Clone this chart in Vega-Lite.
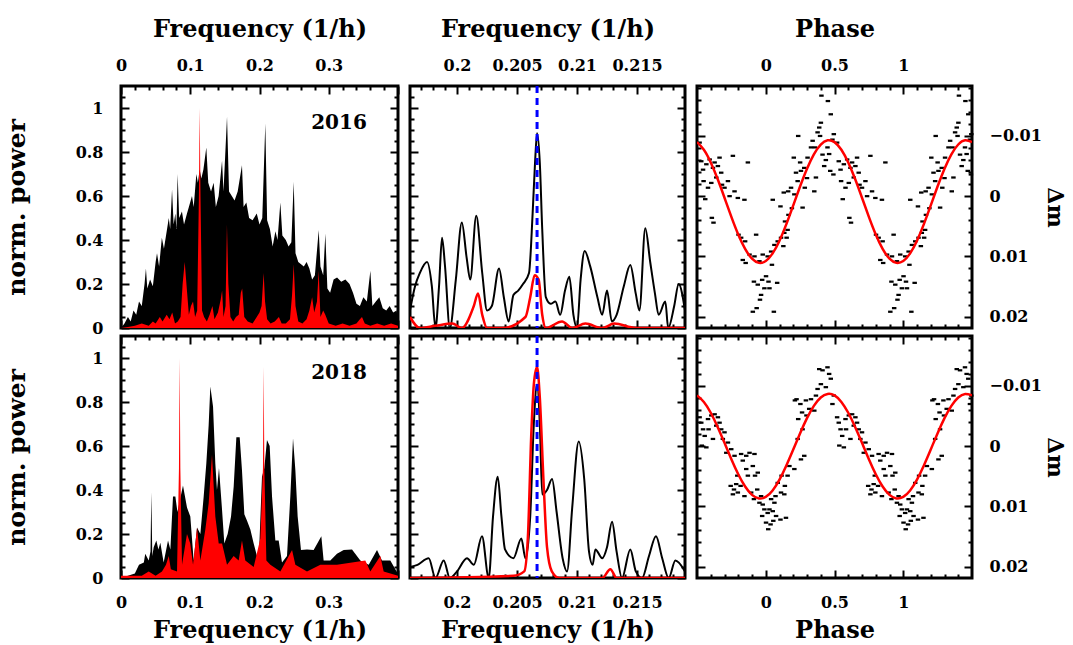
{
"$schema": "https://vega.github.io/schema/vega-lite/v6.json",
"padding": {"left": 2, "top": 15, "right": 0, "bottom": 0},
"background": "white",
"config": {
  "view": {"stroke": "#000", "strokeWidth": 3},
  "axis": {"labelFont": "DejaVu Serif", "labelFontWeight": "bold", "labelFontSize": 16, "titleFont": "DejaVu Serif", "titleFontWeight": "bold", "titleFontSize": 24, "labelColor": "#000", "titleColor": "#000", "tickColor": "#000", "tickWidth": 2, "domain": false, "grid": false, "labelFlush": false, "labelOverlap": false}
},
"datasets": {
"b16": [{"f":0,"p":0},{"f":0.005,"p":0.02},{"f":0.01,"p":0.05},{"f":0.014,"p":0.03},{"f":0.018,"p":0.08},{"f":0.022,"p":0.06},{"f":0.026,"p":0.12},{"f":0.03,"p":0.1},{"f":0.034,"p":0.2},{"f":0.036,"p":0.27},{"f":0.038,"p":0.18},{"f":0.042,"p":0.22},{"f":0.046,"p":0.19},{"f":0.05,"p":0.3},{"f":0.052,"p":0.34},{"f":0.055,"p":0.28},{"f":0.059,"p":0.41},{"f":0.062,"p":0.36},{"f":0.066,"p":0.44},{"f":0.069,"p":0.5},{"f":0.071,"p":0.45},{"f":0.0737,"p":0.63},{"f":0.076,"p":0.47},{"f":0.0785,"p":0.52},{"f":0.08,"p":0.45},{"f":0.0818,"p":0.7},{"f":0.084,"p":0.5},{"f":0.088,"p":0.53},{"f":0.091,"p":0.47},{"f":0.0953,"p":0.52},{"f":0.098,"p":0.55},{"f":0.1025,"p":0.6},{"f":0.105,"p":0.55},{"f":0.1088,"p":0.7},{"f":0.111,"p":0.66},{"f":0.1136,"p":0.72},{"f":0.116,"p":0.68},{"f":0.119,"p":0.72},{"f":0.1232,"p":0.82},{"f":0.126,"p":0.66},{"f":0.13,"p":0.62},{"f":0.1338,"p":0.66},{"f":0.137,"p":0.55},{"f":0.141,"p":0.6},{"f":0.1459,"p":0.76},{"f":0.148,"p":0.62},{"f":0.1531,"p":0.96},{"f":0.156,"p":0.62},{"f":0.16,"p":0.6},{"f":0.164,"p":0.58},{"f":0.1685,"p":0.62},{"f":0.1747,"p":0.74},{"f":0.177,"p":0.55},{"f":0.181,"p":0.57},{"f":0.185,"p":0.5},{"f":0.19,"p":0.49},{"f":0.196,"p":0.52},{"f":0.2,"p":0.47},{"f":0.204,"p":0.5},{"f":0.2084,"p":0.93},{"f":0.211,"p":0.49},{"f":0.215,"p":0.45},{"f":0.219,"p":0.37},{"f":0.223,"p":0.44},{"f":0.226,"p":0.4},{"f":0.2301,"p":0.57},{"f":0.233,"p":0.42},{"f":0.238,"p":0.4},{"f":0.242,"p":0.37},{"f":0.246,"p":0.39},{"f":0.2494,"p":0.665},{"f":0.252,"p":0.34},{"f":0.256,"p":0.3},{"f":0.26,"p":0.29},{"f":0.264,"p":0.28},{"f":0.268,"p":0.3},{"f":0.272,"p":0.27},{"f":0.276,"p":0.22},{"f":0.28,"p":0.24},{"f":0.2855,"p":0.445},{"f":0.288,"p":0.28},{"f":0.292,"p":0.24},{"f":0.2951,"p":0.43},{"f":0.298,"p":0.18},{"f":0.302,"p":0.16},{"f":0.307,"p":0.22},{"f":0.312,"p":0.23},{"f":0.318,"p":0.21},{"f":0.324,"p":0.22},{"f":0.33,"p":0.2},{"f":0.335,"p":0.16},{"f":0.34,"p":0.11},{"f":0.345,"p":0.1},{"f":0.35,"p":0.14},{"f":0.355,"p":0.12},{"f":0.3601,"p":0.26},{"f":0.363,"p":0.1},{"f":0.368,"p":0.12},{"f":0.373,"p":0.14},{"f":0.378,"p":0.09},{"f":0.383,"p":0.08},{"f":0.388,"p":0.1},{"f":0.393,"p":0.07},{"f":0.398,"p":0.08},{"f":0.4,"p":0.04}],
"r16": [{"f":0,"p":0},{"f":0.01,"p":0.005},{"f":0.02,"p":0.01},{"f":0.03,"p":0.02},{"f":0.04,"p":0.01},{"f":0.046,"p":0.03},{"f":0.05,"p":0.02},{"f":0.056,"p":0.05},{"f":0.06,"p":0.03},{"f":0.066,"p":0.06},{"f":0.07,"p":0.04},{"f":0.074,"p":0.07},{"f":0.078,"p":0.02},{"f":0.082,"p":0.03},{"f":0.086,"p":0.05},{"f":0.089,"p":0.2},{"f":0.092,"p":0.3},{"f":0.095,"p":0.18},{"f":0.098,"p":0.06},{"f":0.101,"p":0.1},{"f":0.104,"p":0.12},{"f":0.107,"p":0.05},{"f":0.11,"p":0.08},{"f":0.1125,"p":0.6},{"f":0.1136,"p":1},{"f":0.1148,"p":0.6},{"f":0.117,"p":0.08},{"f":0.12,"p":0.05},{"f":0.124,"p":0.03},{"f":0.128,"p":0.06},{"f":0.132,"p":0.1},{"f":0.135,"p":0.04},{"f":0.14,"p":0.07},{"f":0.144,"p":0.13},{"f":0.146,"p":0.17},{"f":0.148,"p":0.05},{"f":0.151,"p":0.1},{"f":0.153,"p":0.47},{"f":0.155,"p":0.2},{"f":0.158,"p":0.05},{"f":0.162,"p":0.03},{"f":0.166,"p":0.05},{"f":0.17,"p":0.06},{"f":0.173,"p":0.16},{"f":0.175,"p":0.18},{"f":0.178,"p":0.05},{"f":0.183,"p":0.03},{"f":0.19,"p":0.02},{"f":0.196,"p":0.05},{"f":0.2,"p":0.07},{"f":0.203,"p":0.1},{"f":0.206,"p":0.25},{"f":0.208,"p":0.12},{"f":0.211,"p":0.04},{"f":0.216,"p":0.02},{"f":0.222,"p":0.03},{"f":0.228,"p":0.05},{"f":0.232,"p":0.02},{"f":0.238,"p":0.02},{"f":0.244,"p":0.04},{"f":0.247,"p":0.15},{"f":0.2494,"p":0.29},{"f":0.252,"p":0.1},{"f":0.256,"p":0.03},{"f":0.262,"p":0.02},{"f":0.268,"p":0.04},{"f":0.272,"p":0.08},{"f":0.276,"p":0.14},{"f":0.279,"p":0.07},{"f":0.283,"p":0.12},{"f":0.2855,"p":0.26},{"f":0.288,"p":0.05},{"f":0.292,"p":0.08},{"f":0.295,"p":0.06},{"f":0.3,"p":0.02},{"f":0.31,"p":0.01},{"f":0.32,"p":0.02},{"f":0.33,"p":0.01},{"f":0.34,"p":0.02},{"f":0.345,"p":0.04},{"f":0.348,"p":0.05},{"f":0.352,"p":0.02},{"f":0.36,"p":0.01},{"f":0.37,"p":0.02},{"f":0.38,"p":0.01},{"f":0.39,"p":0.02},{"f":0.4,"p":0.01}],
"b18": [{"f":0,"p":0},{"f":0.01,"p":0.01},{"f":0.02,"p":0.02},{"f":0.026,"p":0.06},{"f":0.033,"p":0.07},{"f":0.035,"p":0.11},{"f":0.04,"p":0.08},{"f":0.0426,"p":0.12},{"f":0.0438,"p":0.39},{"f":0.0452,"p":0.1},{"f":0.0472,"p":0.14},{"f":0.051,"p":0.17},{"f":0.054,"p":0.13},{"f":0.0568,"p":0.16},{"f":0.0616,"p":0.07},{"f":0.0679,"p":0.17},{"f":0.0713,"p":0.13},{"f":0.0751,"p":0.37},{"f":0.0785,"p":0.37},{"f":0.0815,"p":0.3},{"f":0.0895,"p":0.42},{"f":0.0953,"p":0.32},{"f":0.1001,"p":0.28},{"f":0.1049,"p":0.08},{"f":0.1098,"p":0.23},{"f":0.1146,"p":0.2},{"f":0.1194,"p":0.37},{"f":0.1232,"p":0.52},{"f":0.1266,"p":0.695},{"f":0.129,"p":0.87},{"f":0.1329,"p":0.78},{"f":0.1362,"p":0.52},{"f":0.1386,"p":0.4},{"f":0.1415,"p":0.5},{"f":0.1459,"p":0.31},{"f":0.1492,"p":0.157},{"f":0.154,"p":0.2},{"f":0.1589,"p":0.28},{"f":0.1627,"p":0.415},{"f":0.1666,"p":0.64},{"f":0.1714,"p":0.64},{"f":0.1747,"p":0.49},{"f":0.1781,"p":0.29},{"f":0.182,"p":0.26},{"f":0.1868,"p":0.22},{"f":0.1916,"p":0.157},{"f":0.1988,"p":0.07},{"f":0.2036,"p":0.46},{"f":0.207,"p":0.5},{"f":0.2108,"p":0.627},{"f":0.2147,"p":0.6},{"f":0.2181,"p":0.37},{"f":0.2229,"p":0.17},{"f":0.2277,"p":0.17},{"f":0.2325,"p":0.07},{"f":0.2397,"p":0.1},{"f":0.2445,"p":0.37},{"f":0.2484,"p":0.635},{"f":0.2518,"p":0.49},{"f":0.2551,"p":0.28},{"f":0.2599,"p":0.127},{"f":0.2686,"p":0.13},{"f":0.2782,"p":0.127},{"f":0.2893,"p":0.19},{"f":0.2926,"p":0.08},{"f":0.3023,"p":0.08},{"f":0.3119,"p":0.11},{"f":0.3216,"p":0.127},{"f":0.3336,"p":0.13},{"f":0.3456,"p":0.08},{"f":0.3577,"p":0.06},{"f":0.3697,"p":0.127},{"f":0.3769,"p":0.08},{"f":0.3889,"p":0.08},{"f":0.398,"p":0.03},{"f":0.4,"p":0.02}],
"r18": [{"f":0,"p":0.01},{"f":0.03,"p":0.01},{"f":0.04,"p":0.03},{"f":0.05,"p":0.01},{"f":0.0592,"p":0.03},{"f":0.065,"p":0.06},{"f":0.0689,"p":0.1},{"f":0.072,"p":0.04},{"f":0.0809,"p":0.03},{"f":0.0837,"p":0.5},{"f":0.0847,"p":1},{"f":0.0857,"p":0.5},{"f":0.0881,"p":0.06},{"f":0.0953,"p":0.2},{"f":0.1,"p":0.157},{"f":0.104,"p":0.06},{"f":0.1098,"p":0.23},{"f":0.1146,"p":0.08},{"f":0.1218,"p":0.22},{"f":0.1266,"p":0.34},{"f":0.1314,"p":0.56},{"f":0.1362,"p":0.28},{"f":0.1411,"p":0.157},{"f":0.1459,"p":0.157},{"f":0.1531,"p":0.06},{"f":0.1627,"p":0.1},{"f":0.1699,"p":0.08},{"f":0.1747,"p":0.17},{"f":0.1795,"p":0.08},{"f":0.1916,"p":0.05},{"f":0.2012,"p":0.18},{"f":0.205,"p":0.5},{"f":0.206,"p":0.96},{"f":0.207,"p":0.5},{"f":0.2099,"p":0.08},{"f":0.2157,"p":0.06},{"f":0.2301,"p":0.03},{"f":0.247,"p":0.127},{"f":0.2518,"p":0.06},{"f":0.2686,"p":0.03},{"f":0.2879,"p":0.06},{"f":0.3119,"p":0.06},{"f":0.3528,"p":0.08},{"f":0.36,"p":0.03},{"f":0.3745,"p":0.1},{"f":0.3793,"p":0.03},{"f":0.4,"p":0.01}],
"mb16": [{"f":0.19608,"p":0.08},{"f":0.1965,"p":0.19},{"f":0.1969,"p":0.25},{"f":0.1975,"p":0.3},{"f":0.1979,"p":0.19},{"f":0.1982,"p":0},{"f":0.1985,"p":0.19},{"f":0.19875,"p":0.41},{"f":0.199,"p":0.28},{"f":0.1994,"p":0},{"f":0.1999,"p":0.22},{"f":0.2004,"p":0.48},{"f":0.2008,"p":0.32},{"f":0.2011,"p":0.22},{"f":0.2016,"p":0.51},{"f":0.2021,"p":0.25},{"f":0.2025,"p":0.08},{"f":0.2029,"p":0.1},{"f":0.2035,"p":0.27},{"f":0.2039,"p":0.14},{"f":0.2043,"p":0.03},{"f":0.2047,"p":0.15},{"f":0.2051,"p":0.17},{"f":0.2055,"p":0.2},{"f":0.206,"p":0.25},{"f":0.2063,"p":0.52},{"f":0.2065,"p":0.75},{"f":0.20667,"p":0.885},{"f":0.2069,"p":0.75},{"f":0.2071,"p":0.45},{"f":0.2074,"p":0.14},{"f":0.2078,"p":0.11},{"f":0.2082,"p":0.12},{"f":0.2086,"p":0.06},{"f":0.209,"p":0.17},{"f":0.20936,"p":0.233},{"f":0.2097,"p":0.06},{"f":0.21,"p":0},{"f":0.2103,"p":0.22},{"f":0.21064,"p":0.35},{"f":0.2111,"p":0.28},{"f":0.2117,"p":0.14},{"f":0.2121,"p":0.06},{"f":0.2125,"p":0.17},{"f":0.2129,"p":0.03},{"f":0.2133,"p":0.06},{"f":0.2139,"p":0.19},{"f":0.21444,"p":0.286},{"f":0.2149,"p":0.155},{"f":0.2152,"p":0.08},{"f":0.21569,"p":0.453},{"f":0.2161,"p":0.3},{"f":0.2165,"p":0.155},{"f":0.2168,"p":0.06},{"f":0.21736,"p":0.12},{"f":0.2176,"p":0},{"f":0.2181,"p":0.1},{"f":0.21847,"p":0.2},{"f":0.219,"p":0.08}],
"mr16": [{"f":0.19608,"p":0.05},{"f":0.1969,"p":0},{"f":0.1982,"p":0.01},{"f":0.1996,"p":0.02},{"f":0.2004,"p":0},{"f":0.2014,"p":0.1},{"f":0.20175,"p":0.157},{"f":0.2021,"p":0.06},{"f":0.2025,"p":0},{"f":0.2038,"p":0},{"f":0.2057,"p":0.05},{"f":0.2061,"p":0.14},{"f":0.20647,"p":0.24},{"f":0.2068,"p":0.22},{"f":0.2071,"p":0.06},{"f":0.2074,"p":0},{"f":0.20875,"p":0.03},{"f":0.2096,"p":0},{"f":0.2107,"p":0.02},{"f":0.2121,"p":0},{"f":0.2131,"p":0.02},{"f":0.2149,"p":0},{"f":0.219,"p":0}],
"mb18": [{"f":0.19608,"p":0.05},{"f":0.1967,"p":0.06},{"f":0.19764,"p":0.09},{"f":0.1982,"p":0},{"f":0.19889,"p":0.08},{"f":0.1994,"p":0},{"f":0.2,"p":0.03},{"f":0.20083,"p":0.09},{"f":0.2014,"p":0.06},{"f":0.20208,"p":0.19},{"f":0.20264,"p":0},{"f":0.203,"p":0.28},{"f":0.20339,"p":0.46},{"f":0.2037,"p":0.28},{"f":0.204,"p":0.13},{"f":0.2047,"p":0.09},{"f":0.20536,"p":0.18},{"f":0.2057,"p":0.09},{"f":0.2061,"p":0.28},{"f":0.2064,"p":0.7},{"f":0.20667,"p":0.88},{"f":0.2069,"p":0.7},{"f":0.2071,"p":0.38},{"f":0.2075,"p":0.4},{"f":0.20792,"p":0.45},{"f":0.2083,"p":0.3},{"f":0.2088,"p":0.09},{"f":0.20917,"p":0.03},{"f":0.2096,"p":0.32},{"f":0.21014,"p":0.62},{"f":0.2106,"p":0.45},{"f":0.211,"p":0.12},{"f":0.2113,"p":0.06},{"f":0.21153,"p":0.13},{"f":0.2121,"p":0.09},{"f":0.2125,"p":0.14},{"f":0.21292,"p":0.256},{"f":0.2133,"p":0.12},{"f":0.21375,"p":0},{"f":0.21444,"p":0.13},{"f":0.2149,"p":0.03},{"f":0.21542,"p":0},{"f":0.216,"p":0.1},{"f":0.21658,"p":0.19},{"f":0.2171,"p":0.09},{"f":0.21764,"p":0},{"f":0.2182,"p":0.08},{"f":0.219,"p":0.03}],
"mr18": [{"f":0.19608,"p":0},{"f":0.2047,"p":0.01},{"f":0.2056,"p":0.03},{"f":0.2059,"p":0.18},{"f":0.2062,"p":0.67},{"f":0.2064,"p":0.88},{"f":0.20667,"p":0.96},{"f":0.2069,"p":0.82},{"f":0.2072,"p":0.45},{"f":0.2075,"p":0.14},{"f":0.2079,"p":0.03},{"f":0.2085,"p":0},{"f":0.2121,"p":0},{"f":0.21278,"p":0.04},{"f":0.2133,"p":0},{"f":0.219,"p":0}],
"c16": [{"ph":-0.5,"dm":-0.00898},{"ph":-0.45,"dm":-0.00771},{"ph":-0.4,"dm":-0.0056},{"ph":-0.35,"dm":-0.00285},{"ph":-0.3,"dm":0.00026},{"ph":-0.25,"dm":0.00344},{"ph":-0.2,"dm":0.00637},{"ph":-0.15,"dm":0.00876},{"ph":-0.1,"dm":0.01038},{"ph":-0.05,"dm":0.01108},{"ph":0,"dm":0.01078},{"ph":0.05,"dm":0.00951},{"ph":0.1,"dm":0.0074},{"ph":0.15,"dm":0.00465},{"ph":0.2,"dm":0.00154},{"ph":0.25,"dm":-0.00164},{"ph":0.3,"dm":-0.00457},{"ph":0.35,"dm":-0.00696},{"ph":0.4,"dm":-0.00858},{"ph":0.45,"dm":-0.00928},{"ph":0.5,"dm":-0.00898},{"ph":0.55,"dm":-0.00771},{"ph":0.6,"dm":-0.0056},{"ph":0.65,"dm":-0.00285},{"ph":0.7,"dm":0.00026},{"ph":0.75,"dm":0.00344},{"ph":0.8,"dm":0.00637},{"ph":0.85,"dm":0.00876},{"ph":0.9,"dm":0.01038},{"ph":0.95,"dm":0.01108},{"ph":1,"dm":0.01078},{"ph":1.05,"dm":0.00951},{"ph":1.1,"dm":0.0074},{"ph":1.15,"dm":0.00465},{"ph":1.2,"dm":0.00154},{"ph":1.25,"dm":-0.00164},{"ph":1.3,"dm":-0.00457},{"ph":1.35,"dm":-0.00696},{"ph":1.4,"dm":-0.00858},{"ph":1.45,"dm":-0.00928},{"ph":1.5,"dm":-0.00898}],
"c18": [{"ph":-0.5,"dm":-0.00843},{"ph":-0.45,"dm":-0.00735},{"ph":-0.4,"dm":-0.00555},{"ph":-0.35,"dm":-0.0032},{"ph":-0.3,"dm":-0.00055},{"ph":-0.25,"dm":0.00216},{"ph":-0.2,"dm":0.00466},{"ph":-0.15,"dm":0.0067},{"ph":-0.1,"dm":0.00809},{"ph":-0.05,"dm":0.00868},{"ph":0,"dm":0.00843},{"ph":0.05,"dm":0.00735},{"ph":0.1,"dm":0.00555},{"ph":0.15,"dm":0.0032},{"ph":0.2,"dm":0.00055},{"ph":0.25,"dm":-0.00216},{"ph":0.3,"dm":-0.00466},{"ph":0.35,"dm":-0.0067},{"ph":0.4,"dm":-0.00809},{"ph":0.45,"dm":-0.00868},{"ph":0.5,"dm":-0.00843},{"ph":0.55,"dm":-0.00735},{"ph":0.6,"dm":-0.00555},{"ph":0.65,"dm":-0.0032},{"ph":0.7,"dm":-0.00055},{"ph":0.75,"dm":0.00216},{"ph":0.8,"dm":0.00466},{"ph":0.85,"dm":0.0067},{"ph":0.9,"dm":0.00809},{"ph":0.95,"dm":0.00868},{"ph":1,"dm":0.00843},{"ph":1.05,"dm":0.00735},{"ph":1.1,"dm":0.00555},{"ph":1.15,"dm":0.0032},{"ph":1.2,"dm":0.00055},{"ph":1.25,"dm":-0.00216},{"ph":1.3,"dm":-0.00466},{"ph":1.35,"dm":-0.0067},{"ph":1.4,"dm":-0.00809},{"ph":1.45,"dm":-0.00868},{"ph":1.5,"dm":-0.00843}],
"s16": [{"ph":[-0.481,0.519],"dm":-0.0089},{"ph":[-0.469,0.531],"dm":-0.0058},{"ph":[-0.456,0.544],"dm":-0.0044},{"ph":[-0.432,0.568],"dm":-0.0053},{"ph":[-0.408,0.592],"dm":-0.0061},{"ph":[-0.384,0.616],"dm":-0.0047},{"ph":[-0.372,0.628],"dm":-0.0056},{"ph":[-0.348,0.652],"dm":-0.005},{"ph":[-0.336,0.664],"dm":-0.0064},{"ph":[-0.324,0.676],"dm":-0.0039},{"ph":[-0.452,0.548],"dm":-0.0025},{"ph":[-0.42,0.58],"dm":-0.0014},{"ph":[-0.396,0.604],"dm":-0.0022},{"ph":[-0.36,0.64],"dm":-0.0031},{"ph":[-0.318,0.682],"dm":-0.0019},{"ph":[-0.3,0.7],"dm":-0.0014},{"ph":[-0.275,0.725],"dm":-0.0025},{"ph":[-0.263,0.737],"dm":0},{"ph":[-0.227,0.773],"dm":-0.0008},{"ph":[-0.203,0.797],"dm":0.0003},{"ph":[-0.155,0.845],"dm":0.0006},{"ph":[-0.13,0.87],"dm":-0.0056},{"ph":[-0.239,0.761],"dm":-0.0067},{"ph":[-0.392,0.608],"dm":0.0036},{"ph":[-0.38,0.62],"dm":0.0044},{"ph":[-0.198,0.802],"dm":0.0064},{"ph":[-0.179,0.821],"dm":0.0069},{"ph":[-0.15,0.85],"dm":0.0075},{"ph":[-0.07,0.93],"dm":0.0064},{"ph":[-0.167,0.833],"dm":0.0106},{"ph":[-0.146,0.854],"dm":0.0111},{"ph":[-0.118,0.882],"dm":0.0097},{"ph":[-0.082,0.918],"dm":0.01},{"ph":[-0.046,0.954],"dm":0.0108},{"ph":[-0.022,0.978],"dm":0.0097},{"ph":[0.014,1.014],"dm":0.01},{"ph":[0.039,1.039],"dm":0.0092},{"ph":[0.045,1.045],"dm":0.0114},{"ph":[0.063,1.063],"dm":0.0081},{"ph":[0.087,1.087],"dm":0.0075},{"ph":[0.111,1.111],"dm":0.0069},{"ph":[0.135,1.135],"dm":0.0061},{"ph":[0.159,1.159],"dm":0.0056},{"ph":[0.152,1.152],"dm":0.0069},{"ph":[0.128,1.128],"dm":0.0083},{"ph":[0.051,1.051],"dm":0.0006},{"ph":[-0.086,0.914],"dm":0.0142},{"ph":[-0.058,0.942],"dm":0.0147},{"ph":[-0.026,0.974],"dm":0.0139},{"ph":[0.002,1.002],"dm":0.0133},{"ph":[0.02,1.02],"dm":0.0142},{"ph":[-0.01,0.99],"dm":0.0153},{"ph":[-0.034,0.966],"dm":0.0164},{"ph":[0.027,1.027],"dm":0.0153},{"ph":[0.083,1.083],"dm":0.0144},{"ph":[-0.094,0.906],"dm":0.0192},{"ph":[-0.066,0.934],"dm":0.0186},{"ph":[-0.042,0.958],"dm":0.0172},{"ph":[0.059,1.059],"dm":0.0192},{"ph":[0.14,1.14],"dm":0.0042},{"ph":[0.165,1.165],"dm":0.0031},{"ph":[0.107,1.107],"dm":0.0017},{"ph":[0.131,1.131],"dm":-0.0006},{"ph":[0.163,1.163],"dm":-0.0008},{"ph":[0.184,1.184],"dm":-0.0014},{"ph":[0.208,1.208],"dm":-0.0003},{"ph":[0.232,1.232],"dm":-0.0025},{"ph":[0.22,1.22],"dm":-0.0039},{"ph":[0.256,1.256],"dm":-0.0042},{"ph":[0.28,1.28],"dm":-0.0047},{"ph":[0.204,1.204],"dm":-0.0064},{"ph":[0.236,1.236],"dm":-0.01},{"ph":[0.25,1.25],"dm":-0.0056},{"ph":[0.284,1.284],"dm":-0.0014},{"ph":[0.304,1.304],"dm":-0.0064},{"ph":[0.329,1.329],"dm":-0.0081},{"ph":[0.341,1.341],"dm":-0.0092},{"ph":[0.358,1.358],"dm":-0.0081},{"ph":[0.377,1.377],"dm":-0.0106},{"ph":[0.389,1.389],"dm":-0.0114},{"ph":[0.401,1.401],"dm":-0.0122},{"ph":[0.413,1.413],"dm":-0.0069},{"ph":[0.425,1.425],"dm":-0.005},{"ph":[0.449,1.449],"dm":-0.0081},{"ph":[0.473,1.473],"dm":-0.0136},{"ph":[0.485,1.485],"dm":-0.0094},{"ph":[0.495,1.495],"dm":-0.0103},{"ph":[0.469,1.469],"dm":-0.0042},{"ph":[0.492,1.492],"dm":-0.0036},{"ph":[0.405,1.405],"dm":-0.0167},{"ph":[0.365,1.365],"dm":-0.0031},{"ph":[0.353,1.353],"dm":-0.0008},{"ph":[0.268,1.268],"dm":0.0019},{"ph":[0.452,1.452],"dm":-0.0158},{"ph":[0.395,1.395],"dm":-0.01},{"ph":[0.437,1.437],"dm":-0.006},{"ph":[0.461,1.461],"dm":-0.007},{"ph":[-0.44,0.56],"dm":0.0005},{"ph":[0.3,1.3],"dm":-0.003},{"ph":[0.19,1.19],"dm":0.002}],
"s18": [{"ph":[-0.481,0.519],"dm":-0.0048},{"ph":[-0.469,0.531],"dm":-0.0039},{"ph":[-0.456,0.544],"dm":-0.0028},{"ph":[-0.444,0.556],"dm":-0.0017},{"ph":[-0.465,0.535],"dm":-0.0001},{"ph":[-0.42,0.58],"dm":-0.0045},{"ph":[-0.396,0.604],"dm":-0.0051},{"ph":[-0.372,0.628],"dm":-0.0053},{"ph":[-0.348,0.652],"dm":-0.0048},{"ph":[-0.336,0.664],"dm":-0.0039},{"ph":[-0.36,0.64],"dm":-0.0034},{"ph":[-0.324,0.676],"dm":-0.0028},{"ph":[-0.3,0.7],"dm":-0.0023},{"ph":[-0.312,0.688],"dm":-0.0012},{"ph":[-0.275,0.725],"dm":-0.0006},{"ph":[-0.251,0.749],"dm":0.0005},{"ph":[-0.287,0.713],"dm":0.0011},{"ph":[-0.227,0.773],"dm":0.0016},{"ph":[-0.179,0.821],"dm":0.0013},{"ph":[-0.142,0.858],"dm":0.0016},{"ph":[-0.118,0.882],"dm":0.0011},{"ph":[-0.082,0.918],"dm":0.0013},{"ph":[-0.167,0.833],"dm":0.0024},{"ph":[-0.094,0.906],"dm":0.0033},{"ph":[-0.13,0.87],"dm":0.0049},{"ph":[-0.078,0.922],"dm":0.0049},{"ph":[-0.058,0.942],"dm":0.0044},{"ph":[-0.255,0.745],"dm":0.0066},{"ph":[-0.231,0.769],"dm":0.0072},{"ph":[-0.203,0.797],"dm":0.0077},{"ph":[-0.183,0.817],"dm":0.0066},{"ph":[-0.239,0.761],"dm":0.008},{"ph":[-0.215,0.785],"dm":0.0063},{"ph":[-0.155,0.845],"dm":0.0083},{"ph":[-0.106,0.894],"dm":0.0077},{"ph":[-0.086,0.914],"dm":0.0088},{"ph":[-0.046,0.954],"dm":0.0094},{"ph":[-0.022,0.978],"dm":0.0097},{"ph":[-0.01,0.99],"dm":0.0105},{"ph":[0.014,1.014],"dm":0.0111},{"ph":[0.051,1.051],"dm":0.0108},{"ph":[0.075,1.075],"dm":0.0116},{"ph":[0.147,1.147],"dm":0.0119},{"ph":[0.002,1.002],"dm":0.0127},{"ph":[0.018,1.018],"dm":0.0138},{"ph":[0.039,1.039],"dm":0.0088},{"ph":[0.071,1.071],"dm":0.0083},{"ph":[0.111,1.111],"dm":0.0077},{"ph":[0.135,1.135],"dm":0.008},{"ph":[0.087,1.087],"dm":0.0061},{"ph":[0.115,1.115],"dm":0.0049},{"ph":[0.159,1.159],"dm":0.0049},{"ph":[0.208,1.208],"dm":0.0038},{"ph":[0.256,1.256],"dm":0.0022},{"ph":[0.28,1.28],"dm":0.0016},{"ph":[0.232,1.232],"dm":-0.0012},{"ph":[0.268,1.268],"dm":-0.0028},{"ph":[0.236,1.236],"dm":-0.0045},{"ph":[0.212,1.212],"dm":-0.0076},{"ph":[0.224,1.224],"dm":-0.0078},{"ph":[0.252,1.252],"dm":-0.007},{"ph":[0.292,1.292],"dm":-0.0076},{"ph":[0.329,1.329],"dm":-0.0078},{"ph":[0.365,1.365],"dm":-0.0084},{"ph":[0.377,1.377],"dm":-0.0095},{"ph":[0.389,1.389],"dm":-0.0128},{"ph":[0.413,1.413],"dm":-0.0126},{"ph":[0.449,1.449],"dm":-0.0131},{"ph":[0.461,1.461],"dm":-0.012},{"ph":[0.473,1.473],"dm":-0.0112},{"ph":[0.401,1.401],"dm":-0.0103},{"ph":[0.437,1.437],"dm":-0.0098},{"ph":[0.353,1.353],"dm":-0.0059},{"ph":[0.296,1.296],"dm":-0.0051},{"ph":[0.316,1.316],"dm":-0.0062},{"ph":[0.264,1.264],"dm":-0.0056},{"ph":[0.172,1.172],"dm":0.0033},{"ph":[0.139,1.139],"dm":0.0066},{"ph":[0.055,1.055],"dm":0.0124},{"ph":[0.063,1.063],"dm":0.0094},{"ph":[0.027,1.027],"dm":0.0105},{"ph":[-0.034,0.966],"dm":0.0083},{"ph":[-0.062,0.938],"dm":0.0072},{"ph":[-0.207,0.793],"dm":0.0049},{"ph":[-0.142,0.858],"dm":0.0038},{"ph":[-0.416,0.584],"dm":-0.0028},{"ph":[-0.384,0.616],"dm":-0.0012},{"ph":[-0.432,0.568],"dm":0.0002},{"ph":[0.495,1.495],"dm":-0.0084},{"ph":[0.485,1.485],"dm":-0.007},{"ph":[0.035,1.035],"dm":0.013},{"ph":[0.107,1.107],"dm":0.0122},{"ph":[-0.026,0.974],"dm":0.0116}]
},
"columns": 3,
"bounds": "flush",
"spacing": {"row": 8, "column": 12},
"concat": [
{
 "width": 277, "height": 242,
 "resolve": {"axis": {"x": "independent", "y": "independent"}},
 "layer": [
  {"data": {"name": "b16"}, "mark": {"type": "area", "color": "#000", "clip": true},
   "encoding": {
    "x": {"field": "f", "type": "quantitative", "scale": {"domain": [0, 0.4], "nice": false, "zero": false}, "axis": {"orient": "top", "values": [0, 0.1, 0.2, 0.3], "format": "~g", "ticks": false, "labelPadding": 13, "title": "Frequency (1/h)", "titlePadding": 16}},
    "y": {"field": "p", "type": "quantitative", "scale": {"domain": [0, 1.1], "nice": false, "zero": false}, "axis": {"orient": "left", "values": [0, 0.2, 0.4, 0.6, 0.8, 1], "format": "~g", "ticks": false, "labelPadding": 18, "title": "norm. power", "titleFontSize": 25, "titlePadding": 46}}}},
  {"data": {"name": "r16"}, "mark": {"type": "area", "color": "#ff0000", "clip": true},
   "encoding": {
    "x": {"field": "f", "type": "quantitative", "scale": {"domain": [0, 0.4], "nice": false, "zero": false}, "axis": {"orient": "bottom", "values": [0, 0.1, 0.2, 0.3, 0.4], "labels": false, "title": null, "tickSize": -8}},
    "y": {"field": "p", "type": "quantitative", "scale": {"domain": [0, 1.1], "nice": false, "zero": false}, "axis": {"orient": "left", "values": [0, 0.2, 0.4, 0.6, 0.8, 1], "labels": false, "title": null, "tickSize": -8}}}},
  {"data": {"values": [{"f": 0.355, "p": 0.93, "t": "2016"}]}, "mark": {"type": "text", "align": "right", "baseline": "middle", "font": "DejaVu Serif", "fontWeight": "bold", "fontSize": 20, "color": "#000"},
   "encoding": {
    "x": {"field": "f", "type": "quantitative", "scale": {"domain": [0, 0.4], "nice": false, "zero": false}, "axis": {"orient": "top", "values": [0, 0.1, 0.2, 0.3, 0.4], "labels": false, "title": null, "tickSize": -8}},
    "y": {"field": "p", "type": "quantitative", "scale": {"domain": [0, 1.1], "nice": false, "zero": false}, "axis": {"orient": "right", "values": [0, 0.2, 0.4, 0.6, 0.8, 1], "labels": false, "title": null, "tickSize": -8}},
    "text": {"field": "t"}}},
  {"data": {"values": []}, "mark": "point",
   "encoding": {
    "x": {"field": "f", "type": "quantitative", "scale": {"domain": [0, 0.4], "nice": false, "zero": false}, "axis": {"orient": "bottom", "values": [0.02,0.04,0.06,0.08,0.12,0.14,0.16,0.18,0.22,0.24,0.26,0.28,0.32,0.34,0.36,0.38], "labels": false, "title": null, "tickSize": -4}},
    "y": {"field": "p", "type": "quantitative", "scale": {"domain": [0, 1.1], "nice": false, "zero": false}, "axis": {"orient": "left", "values": [0.05,0.1,0.15,0.25,0.3,0.35,0.45,0.5,0.55,0.65,0.7,0.75,0.85,0.9,0.95,1.05], "labels": false, "title": null, "tickSize": -4}}}},
  {"data": {"values": []}, "mark": "point",
   "encoding": {
    "x": {"field": "f", "type": "quantitative", "scale": {"domain": [0, 0.4], "nice": false, "zero": false}, "axis": {"orient": "top", "values": [0.02,0.04,0.06,0.08,0.12,0.14,0.16,0.18,0.22,0.24,0.26,0.28,0.32,0.34,0.36,0.38], "labels": false, "title": null, "tickSize": -4}},
    "y": {"field": "p", "type": "quantitative", "scale": {"domain": [0, 1.1], "nice": false, "zero": false}, "axis": {"orient": "right", "values": [0.05,0.1,0.15,0.25,0.3,0.35,0.45,0.5,0.55,0.65,0.7,0.75,0.85,0.9,0.95,1.05], "labels": false, "title": null, "tickSize": -4}}}}
 ]
},
{
 "width": 275, "height": 242,
 "resolve": {"axis": {"x": "independent", "y": "independent"}},
 "layer": [
  {"data": {"name": "mb16"}, "mark": {"type": "line", "color": "#000", "strokeWidth": 2, "interpolate": "monotone", "clip": true},
   "encoding": {
    "x": {"field": "f", "type": "quantitative", "scale": {"domain": [0.19608, 0.219], "nice": false, "zero": false}, "axis": {"orient": "top", "values": [0.2, 0.205, 0.21, 0.215], "format": "~g", "ticks": false, "labelPadding": 13, "title": "Frequency (1/h)", "titlePadding": 16}},
    "y": {"field": "p", "type": "quantitative", "scale": {"domain": [0, 1.1], "nice": false, "zero": false}, "axis": {"orient": "left", "values": [0, 0.2, 0.4, 0.6, 0.8, 1], "labels": false, "title": null, "tickSize": -8}}}},
  {"data": {"name": "mr16"}, "mark": {"type": "line", "color": "#ff0000", "strokeWidth": 2.5, "interpolate": "monotone", "clip": true},
   "encoding": {
    "x": {"field": "f", "type": "quantitative", "scale": {"domain": [0.19608, 0.219], "nice": false, "zero": false}, "axis": {"orient": "bottom", "values": [0.2, 0.205, 0.21, 0.215], "labels": false, "title": null, "tickSize": -8}},
    "y": {"field": "p", "type": "quantitative", "scale": {"domain": [0, 1.1], "nice": false, "zero": false}, "axis": {"orient": "right", "values": [0, 0.2, 0.4, 0.6, 0.8, 1], "labels": false, "title": null, "tickSize": -8}}}},
  {"data": {"values": []}, "mark": "point",
   "encoding": {
    "x": {"field": "f", "type": "quantitative", "scale": {"domain": [0.19608, 0.219], "nice": false, "zero": false}, "axis": {"orient": "top", "values": [0.2, 0.205, 0.21, 0.215], "labels": false, "title": null, "tickSize": -8}},
    "y": {"field": "p", "type": "quantitative", "scale": {"domain": [0, 1.1], "nice": false, "zero": false}, "axis": {"orient": "left", "values": [0.05,0.1,0.15,0.25,0.3,0.35,0.45,0.5,0.55,0.65,0.7,0.75,0.85,0.9,0.95,1.05], "labels": false, "title": null, "tickSize": -4}}}},
  {"data": {"values": []}, "mark": "point",
   "encoding": {
    "x": {"field": "f", "type": "quantitative", "scale": {"domain": [0.19608, 0.219], "nice": false, "zero": false}, "axis": {"orient": "bottom", "values": [0.197,0.198,0.199,0.201,0.202,0.203,0.204,0.206,0.207,0.208,0.209,0.211,0.212,0.213,0.214,0.216,0.217,0.218], "labels": false, "title": null, "tickSize": -4}},
    "y": {"field": "p", "type": "quantitative", "scale": {"domain": [0, 1.1], "nice": false, "zero": false}, "axis": {"orient": "right", "values": [0.05,0.1,0.15,0.25,0.3,0.35,0.45,0.5,0.55,0.65,0.7,0.75,0.85,0.9,0.95,1.05], "labels": false, "title": null, "tickSize": -4}}}},
  {"data": {"values": [{"f": 0.20667}]}, "mark": {"type": "rule", "color": "#0000ff", "strokeWidth": 3, "strokeDash": [7, 5]},
   "encoding": {
    "x": {"field": "f", "type": "quantitative", "scale": {"domain": [0.19608, 0.219], "nice": false, "zero": false}, "axis": {"orient": "top", "values": [0.197,0.198,0.199,0.201,0.202,0.203,0.204,0.206,0.207,0.208,0.209,0.211,0.212,0.213,0.214,0.216,0.217,0.218], "labels": false, "title": null, "tickSize": -4}}}}
 ]
},
{
 "width": 275, "height": 242,
 "resolve": {"axis": {"x": "independent", "y": "independent"}},
 "layer": [
  {"data": {"name": "s16"}, "transform": [{"flatten": ["ph"]}], "mark": {"type": "point", "shape": "M-1,-0.5H1V0.5H-1Z", "size": 20, "filled": true, "color": "#000", "opacity": 1},
   "encoding": {
    "x": {"field": "ph", "type": "quantitative", "scale": {"domain": [-0.5, 1.5], "nice": false, "zero": false}, "axis": {"orient": "top", "values": [0, 0.5, 1], "format": "~g", "ticks": false, "labelPadding": 13, "title": "Phase", "titlePadding": 16}},
    "y": {"field": "dm", "type": "quantitative", "scale": {"domain": [-0.0183, 0.0219], "nice": false, "zero": false, "reverse": true}, "axis": {"orient": "right", "values": [-0.01, 0, 0.01, 0.02], "format": "~g", "ticks": false, "labelPadding": 17, "title": "Δm", "titleFontSize": 22, "titlePadding": 1}}}},
  {"data": {"name": "c16"}, "mark": {"type": "line", "color": "#ff0000", "strokeWidth": 2.5, "interpolate": "natural", "clip": true},
   "encoding": {
    "x": {"field": "ph", "type": "quantitative", "scale": {"domain": [-0.5, 1.5], "nice": false, "zero": false}, "axis": {"orient": "bottom", "values": [0, 0.5, 1], "labels": false, "title": null, "tickSize": -8}},
    "y": {"field": "dm", "type": "quantitative", "scale": {"domain": [-0.0183, 0.0219], "nice": false, "zero": false, "reverse": true}, "axis": {"orient": "left", "values": [-0.01, 0, 0.01, 0.02], "labels": false, "title": null, "tickSize": -8}}}},
  {"data": {"values": []}, "mark": "point",
   "encoding": {
    "x": {"field": "ph", "type": "quantitative", "scale": {"domain": [-0.5, 1.5], "nice": false, "zero": false}, "axis": {"orient": "top", "values": [0, 0.5, 1], "labels": false, "title": null, "tickSize": -8}},
    "y": {"field": "dm", "type": "quantitative", "scale": {"domain": [-0.0183, 0.0219], "nice": false, "zero": false, "reverse": true}, "axis": {"orient": "right", "values": [-0.01, 0, 0.01, 0.02], "labels": false, "title": null, "tickSize": -8}}}},
  {"data": {"values": []}, "mark": "point",
   "encoding": {
    "x": {"field": "ph", "type": "quantitative", "scale": {"domain": [-0.5, 1.5], "nice": false, "zero": false}, "axis": {"orient": "bottom", "values": [-0.4,-0.3,-0.2,-0.1,0.1,0.2,0.3,0.4,0.6,0.7,0.8,0.9,1.1,1.2,1.3,1.4], "labels": false, "title": null, "tickSize": -4}},
    "y": {"field": "dm", "type": "quantitative", "scale": {"domain": [-0.0183, 0.0219], "nice": false, "zero": false, "reverse": true}, "axis": {"orient": "left", "values": [-0.018,-0.016,-0.014,-0.012,-0.008,-0.006,-0.004,-0.002,0.002,0.004,0.006,0.008,0.012,0.014,0.016,0.018], "labels": false, "title": null, "tickSize": -4}}}},
  {"data": {"values": []}, "mark": "point",
   "encoding": {
    "x": {"field": "ph", "type": "quantitative", "scale": {"domain": [-0.5, 1.5], "nice": false, "zero": false}, "axis": {"orient": "top", "values": [-0.4,-0.3,-0.2,-0.1,0.1,0.2,0.3,0.4,0.6,0.7,0.8,0.9,1.1,1.2,1.3,1.4], "labels": false, "title": null, "tickSize": -4}},
    "y": {"field": "dm", "type": "quantitative", "scale": {"domain": [-0.0183, 0.0219], "nice": false, "zero": false, "reverse": true}, "axis": {"orient": "right", "values": [-0.018,-0.016,-0.014,-0.012,-0.008,-0.006,-0.004,-0.002,0.002,0.004,0.006,0.008,0.012,0.014,0.016,0.018], "labels": false, "title": null, "tickSize": -4}}}}
 ]
},
{
 "width": 277, "height": 242,
 "resolve": {"axis": {"x": "independent", "y": "independent"}},
 "layer": [
  {"data": {"name": "b18"}, "mark": {"type": "area", "color": "#000", "clip": true},
   "encoding": {
    "x": {"field": "f", "type": "quantitative", "scale": {"domain": [0, 0.4], "nice": false, "zero": false}, "axis": {"orient": "bottom", "values": [0, 0.1, 0.2, 0.3], "format": "~g", "ticks": false, "labelPadding": 16, "title": "Frequency (1/h)", "titlePadding": 8}},
    "y": {"field": "p", "type": "quantitative", "scale": {"domain": [0, 1.1], "nice": false, "zero": false}, "axis": {"orient": "left", "values": [0, 0.2, 0.4, 0.6, 0.8, 1], "format": "~g", "ticks": false, "labelPadding": 18, "title": "norm. power", "titleFontSize": 25, "titlePadding": 46}}}},
  {"data": {"name": "r18"}, "mark": {"type": "area", "color": "#ff0000", "clip": true},
   "encoding": {
    "x": {"field": "f", "type": "quantitative", "scale": {"domain": [0, 0.4], "nice": false, "zero": false}, "axis": {"orient": "bottom", "values": [0, 0.1, 0.2, 0.3, 0.4], "labels": false, "title": null, "tickSize": -8}},
    "y": {"field": "p", "type": "quantitative", "scale": {"domain": [0, 1.1], "nice": false, "zero": false}, "axis": {"orient": "left", "values": [0, 0.2, 0.4, 0.6, 0.8, 1], "labels": false, "title": null, "tickSize": -8}}}},
  {"data": {"values": [{"f": 0.355, "p": 0.93, "t": "2018"}]}, "mark": {"type": "text", "align": "right", "baseline": "middle", "font": "DejaVu Serif", "fontWeight": "bold", "fontSize": 20, "color": "#000"},
   "encoding": {
    "x": {"field": "f", "type": "quantitative", "scale": {"domain": [0, 0.4], "nice": false, "zero": false}, "axis": {"orient": "top", "values": [0, 0.1, 0.2, 0.3, 0.4], "labels": false, "title": null, "tickSize": -8}},
    "y": {"field": "p", "type": "quantitative", "scale": {"domain": [0, 1.1], "nice": false, "zero": false}, "axis": {"orient": "right", "values": [0, 0.2, 0.4, 0.6, 0.8, 1], "labels": false, "title": null, "tickSize": -8}},
    "text": {"field": "t"}}},
  {"data": {"values": []}, "mark": "point",
   "encoding": {
    "x": {"field": "f", "type": "quantitative", "scale": {"domain": [0, 0.4], "nice": false, "zero": false}, "axis": {"orient": "bottom", "values": [0.02,0.04,0.06,0.08,0.12,0.14,0.16,0.18,0.22,0.24,0.26,0.28,0.32,0.34,0.36,0.38], "labels": false, "title": null, "tickSize": -4}},
    "y": {"field": "p", "type": "quantitative", "scale": {"domain": [0, 1.1], "nice": false, "zero": false}, "axis": {"orient": "left", "values": [0.05,0.1,0.15,0.25,0.3,0.35,0.45,0.5,0.55,0.65,0.7,0.75,0.85,0.9,0.95,1.05], "labels": false, "title": null, "tickSize": -4}}}},
  {"data": {"values": []}, "mark": "point",
   "encoding": {
    "x": {"field": "f", "type": "quantitative", "scale": {"domain": [0, 0.4], "nice": false, "zero": false}, "axis": {"orient": "top", "values": [0.02,0.04,0.06,0.08,0.12,0.14,0.16,0.18,0.22,0.24,0.26,0.28,0.32,0.34,0.36,0.38], "labels": false, "title": null, "tickSize": -4}},
    "y": {"field": "p", "type": "quantitative", "scale": {"domain": [0, 1.1], "nice": false, "zero": false}, "axis": {"orient": "right", "values": [0.05,0.1,0.15,0.25,0.3,0.35,0.45,0.5,0.55,0.65,0.7,0.75,0.85,0.9,0.95,1.05], "labels": false, "title": null, "tickSize": -4}}}}
 ]
},
{
 "width": 275, "height": 242,
 "resolve": {"axis": {"x": "independent", "y": "independent"}},
 "layer": [
  {"data": {"name": "mb18"}, "mark": {"type": "line", "color": "#000", "strokeWidth": 2, "interpolate": "monotone", "clip": true},
   "encoding": {
    "x": {"field": "f", "type": "quantitative", "scale": {"domain": [0.19608, 0.219], "nice": false, "zero": false}, "axis": {"orient": "bottom", "values": [0.2, 0.205, 0.21, 0.215], "format": "~g", "ticks": false, "labelPadding": 16, "title": "Frequency (1/h)", "titlePadding": 8}},
    "y": {"field": "p", "type": "quantitative", "scale": {"domain": [0, 1.1], "nice": false, "zero": false}, "axis": {"orient": "left", "values": [0, 0.2, 0.4, 0.6, 0.8, 1], "labels": false, "title": null, "tickSize": -8}}}},
  {"data": {"name": "mr18"}, "mark": {"type": "line", "color": "#ff0000", "strokeWidth": 2.5, "interpolate": "monotone", "clip": true},
   "encoding": {
    "x": {"field": "f", "type": "quantitative", "scale": {"domain": [0.19608, 0.219], "nice": false, "zero": false}, "axis": {"orient": "bottom", "values": [0.2, 0.205, 0.21, 0.215], "labels": false, "title": null, "tickSize": -8}},
    "y": {"field": "p", "type": "quantitative", "scale": {"domain": [0, 1.1], "nice": false, "zero": false}, "axis": {"orient": "right", "values": [0, 0.2, 0.4, 0.6, 0.8, 1], "labels": false, "title": null, "tickSize": -8}}}},
  {"data": {"values": []}, "mark": "point",
   "encoding": {
    "x": {"field": "f", "type": "quantitative", "scale": {"domain": [0.19608, 0.219], "nice": false, "zero": false}, "axis": {"orient": "top", "values": [0.2, 0.205, 0.21, 0.215], "labels": false, "title": null, "tickSize": -8}},
    "y": {"field": "p", "type": "quantitative", "scale": {"domain": [0, 1.1], "nice": false, "zero": false}, "axis": {"orient": "left", "values": [0.05,0.1,0.15,0.25,0.3,0.35,0.45,0.5,0.55,0.65,0.7,0.75,0.85,0.9,0.95,1.05], "labels": false, "title": null, "tickSize": -4}}}},
  {"data": {"values": []}, "mark": "point",
   "encoding": {
    "x": {"field": "f", "type": "quantitative", "scale": {"domain": [0.19608, 0.219], "nice": false, "zero": false}, "axis": {"orient": "bottom", "values": [0.197,0.198,0.199,0.201,0.202,0.203,0.204,0.206,0.207,0.208,0.209,0.211,0.212,0.213,0.214,0.216,0.217,0.218], "labels": false, "title": null, "tickSize": -4}},
    "y": {"field": "p", "type": "quantitative", "scale": {"domain": [0, 1.1], "nice": false, "zero": false}, "axis": {"orient": "right", "values": [0.05,0.1,0.15,0.25,0.3,0.35,0.45,0.5,0.55,0.65,0.7,0.75,0.85,0.9,0.95,1.05], "labels": false, "title": null, "tickSize": -4}}}},
  {"data": {"values": [{"f": 0.20667}]}, "mark": {"type": "rule", "color": "#0000ff", "strokeWidth": 3, "strokeDash": [7, 5]},
   "encoding": {
    "x": {"field": "f", "type": "quantitative", "scale": {"domain": [0.19608, 0.219], "nice": false, "zero": false}, "axis": {"orient": "top", "values": [0.197,0.198,0.199,0.201,0.202,0.203,0.204,0.206,0.207,0.208,0.209,0.211,0.212,0.213,0.214,0.216,0.217,0.218], "labels": false, "title": null, "tickSize": -4}}}}
 ]
},
{
 "width": 275, "height": 242,
 "resolve": {"axis": {"x": "independent", "y": "independent"}},
 "layer": [
  {"data": {"name": "s18"}, "transform": [{"flatten": ["ph"]}], "mark": {"type": "point", "shape": "M-1,-0.5H1V0.5H-1Z", "size": 20, "filled": true, "color": "#000", "opacity": 1},
   "encoding": {
    "x": {"field": "ph", "type": "quantitative", "scale": {"domain": [-0.5, 1.5], "nice": false, "zero": false}, "axis": {"orient": "bottom", "values": [0, 0.5, 1], "format": "~g", "ticks": false, "labelPadding": 16, "title": "Phase", "titlePadding": 8}},
    "y": {"field": "dm", "type": "quantitative", "scale": {"domain": [-0.0183, 0.0219], "nice": false, "zero": false, "reverse": true}, "axis": {"orient": "right", "values": [-0.01, 0, 0.01, 0.02], "format": "~g", "ticks": false, "labelPadding": 17, "title": "Δm", "titleFontSize": 22, "titlePadding": 1}}}},
  {"data": {"name": "c18"}, "mark": {"type": "line", "color": "#ff0000", "strokeWidth": 2.5, "interpolate": "natural", "clip": true},
   "encoding": {
    "x": {"field": "ph", "type": "quantitative", "scale": {"domain": [-0.5, 1.5], "nice": false, "zero": false}, "axis": {"orient": "bottom", "values": [0, 0.5, 1], "labels": false, "title": null, "tickSize": -8}},
    "y": {"field": "dm", "type": "quantitative", "scale": {"domain": [-0.0183, 0.0219], "nice": false, "zero": false, "reverse": true}, "axis": {"orient": "left", "values": [-0.01, 0, 0.01, 0.02], "labels": false, "title": null, "tickSize": -8}}}},
  {"data": {"values": []}, "mark": "point",
   "encoding": {
    "x": {"field": "ph", "type": "quantitative", "scale": {"domain": [-0.5, 1.5], "nice": false, "zero": false}, "axis": {"orient": "top", "values": [0, 0.5, 1], "labels": false, "title": null, "tickSize": -8}},
    "y": {"field": "dm", "type": "quantitative", "scale": {"domain": [-0.0183, 0.0219], "nice": false, "zero": false, "reverse": true}, "axis": {"orient": "right", "values": [-0.01, 0, 0.01, 0.02], "labels": false, "title": null, "tickSize": -8}}}},
  {"data": {"values": []}, "mark": "point",
   "encoding": {
    "x": {"field": "ph", "type": "quantitative", "scale": {"domain": [-0.5, 1.5], "nice": false, "zero": false}, "axis": {"orient": "bottom", "values": [-0.4,-0.3,-0.2,-0.1,0.1,0.2,0.3,0.4,0.6,0.7,0.8,0.9,1.1,1.2,1.3,1.4], "labels": false, "title": null, "tickSize": -4}},
    "y": {"field": "dm", "type": "quantitative", "scale": {"domain": [-0.0183, 0.0219], "nice": false, "zero": false, "reverse": true}, "axis": {"orient": "left", "values": [-0.018,-0.016,-0.014,-0.012,-0.008,-0.006,-0.004,-0.002,0.002,0.004,0.006,0.008,0.012,0.014,0.016,0.018], "labels": false, "title": null, "tickSize": -4}}}},
  {"data": {"values": []}, "mark": "point",
   "encoding": {
    "x": {"field": "ph", "type": "quantitative", "scale": {"domain": [-0.5, 1.5], "nice": false, "zero": false}, "axis": {"orient": "top", "values": [-0.4,-0.3,-0.2,-0.1,0.1,0.2,0.3,0.4,0.6,0.7,0.8,0.9,1.1,1.2,1.3,1.4], "labels": false, "title": null, "tickSize": -4}},
    "y": {"field": "dm", "type": "quantitative", "scale": {"domain": [-0.0183, 0.0219], "nice": false, "zero": false, "reverse": true}, "axis": {"orient": "right", "values": [-0.018,-0.016,-0.014,-0.012,-0.008,-0.006,-0.004,-0.002,0.002,0.004,0.006,0.008,0.012,0.014,0.016,0.018], "labels": false, "title": null, "tickSize": -4}}}}
 ]
}
]
}
